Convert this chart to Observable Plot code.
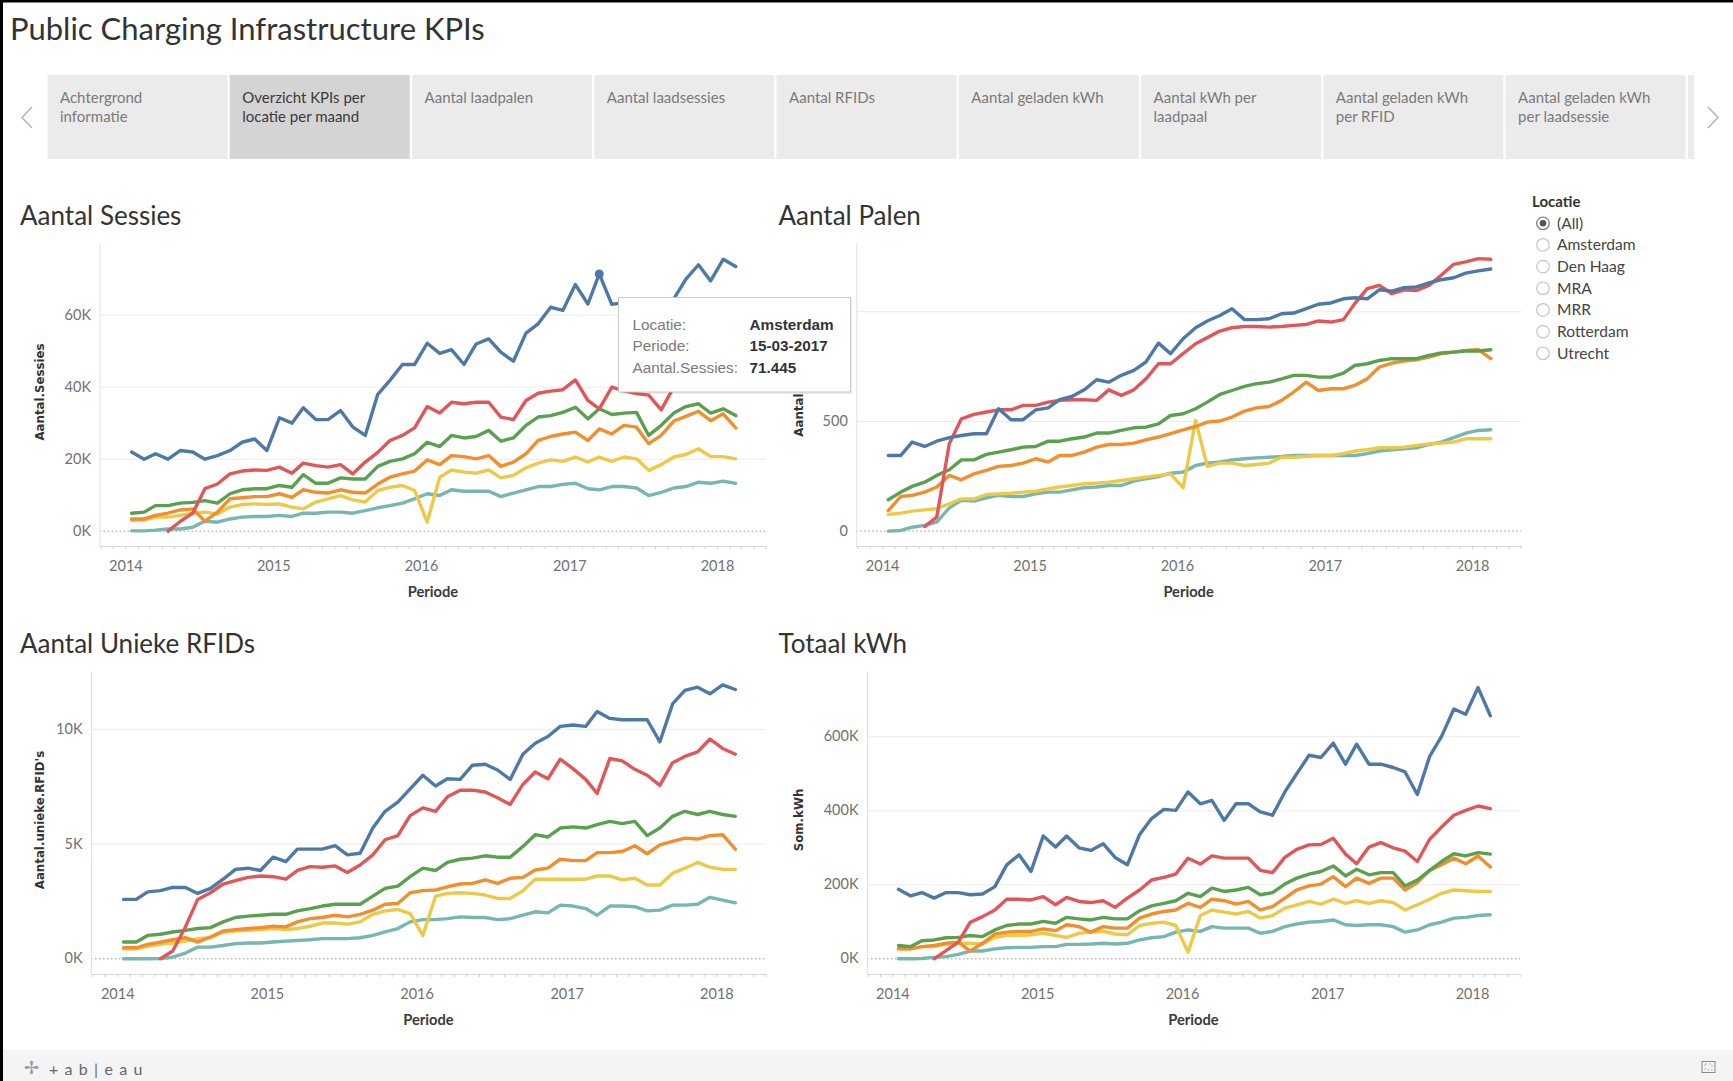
<!DOCTYPE html>
<html><head><meta charset="utf-8">
<script src="https://cdn.jsdelivr.net/npm/d3@7"></script>
<script src="https://cdn.jsdelivr.net/npm/@observablehq/plot@0.6"></script>
<style>
html,body{margin:0;padding:0;background:#fff;}
#page{position:relative;width:1733px;height:1081px;overflow:hidden;background:#fff;font-family:Lato,"Noto Sans",sans-serif;}
.chart{position:absolute;}
#overlay{position:absolute;left:0;top:0;pointer-events:none;}
</style></head>
<body><div id="page"></div>
<script>
// ---------- data ----------
const locations = ["Amsterdam", "Den Haag", "MRA", "MRR", "Rotterdam", "Utrecht"];
const colors = ["#4e79a7", "#f28e2b", "#e15759", "#76b7b2", "#59a14f", "#edc948"];
const drawOrder = ["MRR", "Utrecht", "Den Haag", "Rotterdam", "MRA", "Amsterdam"];
const firstMonth = [2014, 0]; // 15 Jan 2014, monthly up to Feb 2018
const monthCount = 50;
const mraStart = 3; // MRA begins April 2014

// Aantal Sessies
const sessiesAmsterdam = [22000,20000,21500,20000,22400,22000,20000,21000,22400,24700,25600,22400,31500,30000,34300,31000,31000,33500,29000,26600,38000,41900,46300,46300,52200,49400,50400,46300,52000,53400,49700,47200,55000,57600,62200,61300,68500,63100,71445,63000,63500,64000,61500,60000,64500,70000,74000,69500,75500,73500];
const sessiesDenHaag = [3400,3400,4400,5000,5900,6200,2800,5300,9000,9300,9600,9600,10400,9400,11500,10800,10600,11500,10800,10600,13100,15000,15900,16700,19800,18500,21000,20700,20100,21000,18000,19200,21500,25200,26300,27000,27500,25200,28400,27000,29400,28900,24300,26600,30600,31900,33300,30700,32600,28700];
const sessiesMRA = [0,2700,5000,11800,13100,15900,16700,17000,16900,17800,16100,18900,18200,17800,18500,15900,19200,21900,25200,26600,28700,34600,32800,35800,35400,35800,35800,31700,31000,36300,38300,38900,39300,42000,36300,34000,40000,39000,38200,37800,33700,40000,43000,44500,43500,45000,44000];
const sessiesMRR = [100,100,300,600,600,1100,2800,2500,3400,3900,4100,4100,4400,4100,5000,5000,5300,5300,5000,5700,6500,7100,7800,9000,10400,9900,11500,11100,11100,11100,9600,10600,11500,12400,12400,13000,13300,11800,11500,12400,12400,12000,9900,10800,12000,12400,13600,13300,13900,13300];
const sessiesRotterdam = [5000,5300,7100,7100,7800,8000,8500,7800,10400,11500,11800,11800,12700,12200,15700,13300,13300,14800,14500,14500,18000,19400,20100,21500,24700,23500,26600,25900,26300,28000,25000,25900,29400,31700,32100,33000,34400,31200,34000,32400,32800,33000,26600,29400,32800,34600,35400,32800,34000,32100];
const sessiesUtrecht = [3000,3100,3900,3900,4400,5000,5300,4800,6700,7400,7600,7400,7600,6700,6200,8100,9000,9900,8700,8100,11300,12200,12700,11300,2500,15000,17000,16400,16100,17000,14800,15500,17600,18900,19800,19400,20600,19200,20600,19400,20600,20100,16900,18500,20600,21300,22900,20700,20700,20100];

// Aantal Palen
const palenAmsterdam = [345,345,406,386,410,426,436,444,444,558,508,508,553,562,599,614,644,690,679,710,733,771,857,809,877,927,958,983,1014,964,964,968,991,994,1014,1034,1040,1059,1064,1059,1100,1094,1110,1113,1131,1146,1155,1176,1186,1195];
const palenDenHaag = [94,158,163,178,201,254,234,261,277,295,299,310,330,315,345,345,360,383,395,395,401,416,429,444,462,477,497,502,520,547,562,568,596,634,679,641,649,649,664,694,748,766,775,781,793,809,816,824,827,786];
const palenMRA = [21,64,398,512,532,543,553,553,573,573,588,596,599,599,596,644,619,644,694,763,763,809,854,882,912,927,933,933,930,933,938,942,958,953,964,1037,1105,1120,1082,1100,1097,1120,1166,1216,1227,1242,1239];
const palenMRR = [0,3,18,26,41,106,140,137,152,163,158,158,170,178,178,188,198,201,208,208,228,239,249,264,269,299,310,315,325,330,334,337,340,345,345,345,345,345,345,353,365,371,375,380,395,406,426,447,459,462];
const palenRotterdam = [143,178,204,223,254,280,325,325,350,360,371,383,386,410,410,421,429,447,447,459,471,474,489,527,535,558,588,623,641,660,672,679,694,710,710,702,702,720,755,763,778,786,786,786,801,812,816,821,821,827];
const palenUtrecht = [76,82,91,97,102,125,147,147,167,170,173,178,182,193,201,208,216,219,223,231,239,246,254,261,198,505,295,310,310,299,304,310,337,337,340,345,345,353,365,371,380,380,383,391,398,401,406,421,421,421];

// Aantal Unieke RFIDs
const rfidAmsterdam = [2590,2590,2920,2970,3110,3110,2850,3070,3470,3900,3950,3850,4430,4240,4780,4780,4780,4930,4530,4600,5700,6430,6830,7410,8000,7530,7850,7820,8440,8480,8230,7820,8920,9400,9690,10130,10190,10130,10780,10480,10420,10420,10420,9460,11110,11700,11840,11550,11940,11740];
const rfidDenHaag = [480,480,630,730,830,920,730,950,1210,1270,1320,1360,1420,1390,1610,1750,1800,1900,1830,1940,2120,2380,2410,2880,2970,3000,3140,3260,3290,3440,3290,3510,3550,3870,3950,4340,4280,4280,4630,4630,4680,4930,4580,4970,5120,5260,5220,5370,5410,4780];
const rfidMRA = [0,340,1390,2590,2880,3260,3410,3550,3610,3580,3470,3850,4020,3990,4050,3760,4090,4530,5190,5370,6240,6580,6430,7060,7350,7350,7270,7020,6730,7600,8140,7850,8700,8290,7820,7210,8730,8630,8260,8000,7560,8550,8820,9020,9580,9170,8920];
const rfidMRR = [0,0,0,10,70,250,510,510,580,660,690,690,730,770,800,830,880,880,880,920,1020,1170,1320,1610,1710,1710,1750,1830,1800,1800,1710,1750,1900,2050,2000,2340,2300,2190,1900,2300,2300,2270,2090,2120,2340,2340,2380,2680,2560,2440];
const rfidRotterdam = [730,730,1020,1070,1170,1240,1320,1360,1610,1800,1860,1900,1940,1940,2090,2190,2300,2380,2380,2380,2730,3070,3170,3580,3950,3850,4200,4340,4390,4490,4430,4430,4900,5410,5310,5700,5750,5700,5850,5990,5890,5990,5370,5700,6210,6430,6290,6430,6290,6210];
const rfidUtrecht = [440,440,540,630,690,770,880,920,1170,1210,1240,1270,1320,1270,1320,1420,1560,1560,1510,1610,1940,2090,2150,1970,1020,2730,2850,2880,2850,2780,2630,2630,2970,3470,3470,3470,3470,3470,3610,3610,3440,3510,3220,3220,3730,3950,4200,3990,3900,3900];

// Totaal kWh
const kwhAmsterdam = [188000,170000,179000,164000,179000,179000,173000,175000,195000,254000,281000,236000,332000,302000,332000,300000,293000,311000,274000,254000,336000,379000,404000,401000,451000,419000,428000,374000,419000,419000,397000,388000,451000,500000,550000,544000,583000,526000,580000,526000,526000,517000,505000,444000,547000,601000,675000,661000,733000,657000];
const kwhDenHaag = [27000,27000,33000,36000,42000,45000,21000,42000,67000,72000,74000,74000,81000,76000,92000,87000,72000,87000,83000,83000,110000,121000,128000,132000,150000,139000,161000,157000,148000,155000,132000,141000,164000,186000,197000,202000,222000,195000,218000,204000,218000,218000,186000,206000,239000,254000,272000,257000,278000,248000];
const kwhMRA = [0,22000,45000,99000,114000,132000,161000,161000,159000,168000,146000,166000,155000,152000,157000,139000,164000,186000,213000,220000,229000,272000,256000,278000,272000,272000,272000,239000,233000,274000,296000,308000,309000,326000,283000,257000,302000,314000,300000,291000,263000,323000,356000,388000,401000,413000,406000];
const kwhMRR = [0,0,1000,4000,6000,12000,21000,21000,27000,30000,31000,31000,33000,33000,39000,39000,40000,42000,40000,42000,51000,57000,60000,72000,78000,74000,87000,83000,83000,83000,69000,74000,87000,94000,99000,101000,105000,92000,90000,92000,92000,87000,72000,78000,92000,99000,110000,112000,117000,119000];
const kwhRotterdam = [36000,33000,49000,51000,57000,58000,63000,60000,78000,90000,94000,94000,101000,96000,112000,108000,105000,112000,108000,108000,130000,143000,150000,157000,177000,168000,191000,182000,186000,193000,173000,179000,202000,218000,229000,236000,251000,224000,242000,227000,233000,233000,197000,213000,239000,263000,284000,278000,287000,283000];
const kwhUtrecht = [27000,27000,33000,33000,39000,42000,42000,40000,58000,63000,63000,65000,69000,63000,58000,69000,72000,74000,67000,65000,90000,96000,99000,90000,18000,117000,132000,126000,121000,128000,110000,117000,137000,146000,155000,148000,161000,150000,157000,150000,157000,152000,132000,146000,161000,177000,186000,184000,182000,182000];

const yTicksSessies = [0, 20000, 40000, 60000];
const yTicksPalen = [0, 500, 1000];
const yLabelsPalen = [0, 500]; // the 1000 label sits under the tooltip in the reference
const yTicksRfid = [0, 5000, 10000];
const yTicksKwh = [0, 200000, 400000, 600000];

const tabLabels = [["Achtergrond","informatie"],["Overzicht KPIs per","locatie per maand"],["Aantal laadpalen"],["Aantal laadsessies"],["Aantal RFIDs"],["Aantal geladen kWh"],["Aantal kWh per","laadpaal"],["Aantal geladen kWh","per RFID"],["Aantal geladen kWh","per laadsessie"]];
const legendItems = ["(All)", "Amsterdam", "Den Haag", "MRA", "MRR", "Rotterdam", "Utrecht"];
const tooltipRows = [["Locatie:", "Amsterdam"], ["Periode:", "15-03-2017"], ["Aantal.Sessies:", "71.445"]];
const highlight = {loc: "Amsterdam", index: 38};

// ---------- build tables ----------
const dates = d3.range(monthCount).map(i => new Date(Date.UTC(firstMonth[0], firstMonth[1] + i, 15)));
function table(series) {
  const rows = [];
  for (const loc of drawOrder) {
    const vals = series[loc];
    const offset = loc === "MRA" ? mraStart : 0;
    vals.forEach((v, k) => { if (v != null) rows.push({loc, i: k + offset, date: dates[k + offset], value: v}); });
  }
  return rows;
}
const tSessies = table({"Amsterdam": sessiesAmsterdam, "Den Haag": sessiesDenHaag, "MRA": sessiesMRA, "MRR": sessiesMRR, "Rotterdam": sessiesRotterdam, "Utrecht": sessiesUtrecht});
const tPalen = table({"Amsterdam": palenAmsterdam, "Den Haag": palenDenHaag, "MRA": palenMRA, "MRR": palenMRR, "Rotterdam": palenRotterdam, "Utrecht": palenUtrecht});
const tRfid = table({"Amsterdam": rfidAmsterdam, "Den Haag": rfidDenHaag, "MRA": rfidMRA, "MRR": rfidMRR, "Rotterdam": rfidRotterdam, "Utrecht": rfidUtrecht});
const tKwh = table({"Amsterdam": kwhAmsterdam, "Den Haag": kwhDenHaag, "MRA": kwhMRA, "MRR": kwhMRR, "Rotterdam": kwhRotterdam, "Utrecht": kwhUtrecht});

// ---------- layout ----------
const xDomain = [new Date(Date.UTC(2013, 9, 29)), new Date(Date.UTC(2018, 4, 2))];
const monthTicks = d3.utcMonths(xDomain[0], xDomain[1]);
const yearTicks = d3.utcYears(xDomain[0], xDomain[1]);
const fmtK = d => (d / 1000) + "K";

const charts = [
  {rows: tSessies, left: 0, top: 230, w: 780, h: 380, ml: 99.5, mr: 14, mt: 13, mb: 64, yd: [-4250, 79900], yt: yTicksSessies, yl: yTicksSessies, fmt: fmtK, hl: true},
  {rows: tPalen, left: 780, top: 230, w: 750, h: 380, ml: 76.3, mr: 9, mt: 13, mb: 64, yd: [-70, 1311], yt: yTicksPalen, yl: yLabelsPalen, fmt: d => String(d)},
  {rows: tRfid, left: 0, top: 658, w: 780, h: 382, ml: 91, mr: 14, mt: 13.5, mb: 66, yd: [-684, 12502], yt: yTicksRfid, yl: yTicksRfid, fmt: fmtK},
  {rows: tKwh, left: 780, top: 658, w: 750, h: 382, ml: 87, mr: 10, mt: 13.5, mb: 66, yd: [-42400, 775100], yt: yTicksKwh, yl: yTicksKwh, fmt: fmtK}
];

const page = document.getElementById("page");
for (const c of charts) {
  const marks = [
    Plot.gridY(c.yt.filter(v => v !== 0), {stroke: "#ebebeb", strokeOpacity: 1}),
    Plot.ruleY([0], {stroke: "#9a9a9a", strokeDasharray: "1.5,2.5"}),
    Plot.ruleX([xDomain[0]], {stroke: "#e2e2e2"}),
    Plot.ruleY([c.yd[0]], {stroke: "#d8d8d8"}),
    Plot.axisX({ticks: monthTicks, tickSize: 3, tickFormat: () => "", stroke: "#cfcfcf", label: null}),
    Plot.axisX({ticks: yearTicks, tickSize: 0, tickPadding: 14, tickFormat: d3.utcFormat("%Y"), label: null}),
    Plot.axisY({ticks: c.yl, tickSize: 0, tickPadding: 9, tickFormat: c.fmt, label: null}),
    Plot.line(c.rows, {x: "date", y: "value", stroke: "loc", z: "loc", strokeWidth: 3.4, strokeLinejoin: "round", strokeLinecap: "round"})
  ];
  if (c.hl) marks.push(Plot.dot(c.rows.filter(d => d.loc === highlight.loc && d.i === highlight.index), {x: "date", y: "value", r: 4.5, fill: "loc"}));
  const svg = Plot.plot({
    width: c.w, height: c.h,
    marginLeft: c.ml, marginRight: c.mr, marginTop: c.mt, marginBottom: c.mb,
    style: {fontFamily: "Lato, 'Noto Sans', sans-serif", fontSize: "14.5px", color: "#707070", background: "transparent", overflow: "visible"},
    x: {type: "utc", domain: xDomain, label: null},
    y: {domain: c.yd, label: null},
    color: {domain: locations, range: colors},
    marks
  });
  const div = document.createElement("div");
  div.className = "chart";
  div.style.left = c.left + "px";
  div.style.top = c.top + "px";
  div.appendChild(svg);
  page.appendChild(div);
}

// ---------- overlay (title, tabs, legend, axis titles, tooltip, footer) ----------
const o = [];
o.push(`<rect x="0" y="0" width="1733" height="2.5" fill="#000"/>`);
o.push(`<rect x="0" y="0" width="3" height="1081" fill="#000"/>`);
o.push(`<text x="10" y="39.5" font-size="31" fill="#333">Public Charging Infrastructure KPIs</text>`);
tabLabels.forEach((lines, i) => {
  const x = 47.5 + i * 182.26;
  o.push(`<rect x="${x}" y="75" width="180" height="84" fill="${i === 1 ? "#d4d4d4" : "#ebebeb"}"/>`);
  lines.forEach((t, k) => o.push(`<text x="${x + 12.5}" y="${103.2 + k * 18.7}" font-size="15" fill="${i === 1 ? "#3a3a3a" : "#7a7a7a"}">${t}</text>`));
});
o.push(`<rect x="${47.5 + 9 * 182.26}" y="75" width="6.5" height="84" fill="#ebebeb"/>`);
o.push(`<polyline points="32,107 22,117.5 32,128" fill="none" stroke="#b0b0b0" stroke-width="1.4"/>`);
o.push(`<polyline points="1708,107 1718,117.5 1708,128" fill="none" stroke="#b0b0b0" stroke-width="1.4"/>`);
// chart titles
[["Aantal Sessies", 20, 225], ["Aantal Palen", 778.5, 225], ["Aantal Unieke RFIDs", 20, 652.7], ["Totaal kWh", 778.5, 652.7]]
  .forEach(([t, x, y]) => o.push(`<text x="${x}" y="${y}" font-size="26" fill="#333">${t}</text>`));
// y titles
[["Aantal.Sessies", 44, 392], ["Aantal.Palen", 803, 394.5], ["Aantal.unieke.RFID's", 44, 820], ["Som.kWh", 803, 820]]
  .forEach(([t, x, y]) => o.push(`<text transform="translate(${x},${y}) rotate(-90)" text-anchor="middle" font-family="'DejaVu Sans', Verdana, sans-serif" font-size="11.8" font-weight="700" fill="#333">${t}</text>`));
// x titles
[[433, 597], [1188.6, 597], [428.5, 1025], [1193.5, 1025]]
  .forEach(([x, y]) => o.push(`<text x="${x}" y="${y}" text-anchor="middle" font-size="14.7" font-weight="700" fill="#3a3a3a">Periode</text>`));
// legend
o.push(`<text x="1532" y="206.5" font-size="15" font-weight="700" fill="#333">Locatie</text>`);
legendItems.forEach((t, k) => {
  const cy = 223.3 + k * 21.67;
  o.push(`<circle cx="1543" cy="${cy}" r="6.3" fill="#fff" stroke="${k === 0 ? "#777" : "#c4c4c4"}" stroke-width="1.2"/>`);
  if (k === 0) o.push(`<circle cx="1543" cy="${cy}" r="3.3" fill="#555"/>`);
  o.push(`<text x="1557" y="${cy + 5.5}" font-size="15.6" fill="#444">${t}</text>`);
});
// tooltip
o.push(`<rect x="620" y="299.5" width="232" height="94.5" fill="#000" opacity="0.08"/>`);
o.push(`<rect x="618.5" y="297.5" width="232" height="94.5" fill="#fff" stroke="#c9c9c9"/>`);
tooltipRows.forEach(([a, b], k) => {
  const y = 329.5 + k * 21.6;
  o.push(`<text x="632.5" y="${y}" font-family="'Liberation Sans', Arial, sans-serif" font-size="15.3" fill="#7a7a7a">${a}</text>`);
  o.push(`<text x="749.5" y="${y}" font-family="'Liberation Sans', Arial, sans-serif" font-size="15.3" font-weight="700" fill="#333">${b}</text>`);
});
// footer
o.push(`<rect x="3" y="1050" width="1730" height="31" fill="#f4f4f4"/>`);
o.push(`<text x="24" y="1074" font-size="18" fill="#9a9a9a">✢</text>`);
o.push(`<text x="49" y="1074.5" font-size="16" fill="#666" letter-spacing="6.3">+ab|eau</text>`);
o.push(`<rect x="1702" y="1061.5" width="13" height="11" fill="none" stroke="#888" stroke-width="1"/>`);
o.push(`<rect x="1705" y="1064" width="7" height="6" fill="#f4f4f4" stroke="#aaa" stroke-width="0.8" stroke-dasharray="2,2"/>`);

const ov = document.createElementNS("http://www.w3.org/2000/svg", "svg");
ov.setAttribute("id", "overlay");
ov.setAttribute("width", 1733);
ov.setAttribute("height", 1081);
ov.setAttribute("font-family", "Lato, 'Noto Sans', sans-serif");
ov.innerHTML = o.join("");
page.appendChild(ov);
</script>
</body></html>
